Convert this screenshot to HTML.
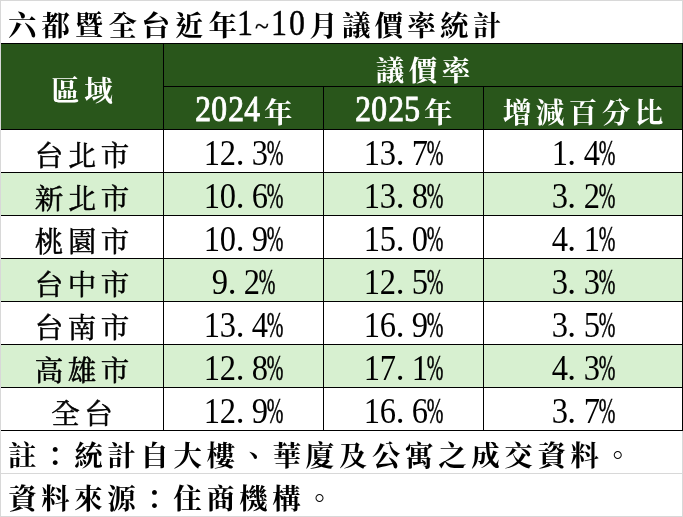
<!DOCTYPE html><html lang="zh-Hant"><head><meta charset="utf-8"><title>六都暨全台近年1~10月議價率統計</title><style>
*{margin:0;padding:0;box-sizing:border-box}
html,body{width:683px;height:517px;background:#fff;overflow:hidden}
body{position:relative;font-family:"Liberation Serif","Noto Serif CJK SC",serif;color:#000}
.ab{position:absolute}
.ln{position:absolute;background:#000}
.gl{position:absolute;background:#d8d8d8}
.c{position:absolute;text-align:center;white-space:nowrap;font-size:28.5px;font-weight:400;-webkit-text-stroke:0.55px #000}
.k{letter-spacing:4.50px;margin-right:-4.50px;display:inline-block;position:relative}
.b{font-weight:700;font-size:28.5px;-webkit-text-stroke:0}
.b .k{letter-spacing:4.50px;margin-right:-4.50px}
.w{color:#fff}
.n{-webkit-text-stroke:0;display:inline-block;position:relative;top:-1.5px;left:.5px;font-size:35.0px;font-weight:400;letter-spacing:0;line-height:1}
.d{display:inline-block;width:16.0px;text-align:center}
.d i{font-style:normal;display:inline-block;width:40px;margin:0 -12.00px;text-align:center;transform:scaleX(0.93);transform-origin:50% 50%;position:relative}
.d.pc i{transform:scaleX(0.57);left:-1px;-webkit-text-stroke:.5px #000}
.d.dot i{transform:none;left:-4px}
.hn{font-size:35.0px;font-weight:400;-webkit-text-stroke:0.9px #fff;top:-1.5px;left:0}
.hn .d{width:16.55px}
.hn .d i{margin:0 -11.72px;transform:scaleX(0.9)}
.yr{margin-left:3.5px}
.tn{font-size:35.5px;top:0;left:0;line-height:43px;-webkit-text-stroke:0.4px #000}
.tn .d{width:17.2px}
.tn .d i{margin:0 -11.4px;transform:scaleX(.9)}
.tn .d.tl i{transform:scale(.72,.75);top:2.4px}
.t{position:absolute;white-space:nowrap;font-weight:700;font-size:28.5px;line-height:43px;height:43px}
.t .k{margin-right:0}
.lat{font-size:35.5px;font-weight:400;-webkit-text-stroke:0.4px #000;letter-spacing:0;top:-2.3px}
</style></head><body>
<div class="ab" style="left:1px;top:44px;width:681px;height:85px;background:#29561b"></div>
<div class="ab" style="left:1px;top:173px;width:681px;height:42px;background:#d7f0d0"></div>
<div class="ab" style="left:1px;top:259px;width:681px;height:42px;background:#d7f0d0"></div>
<div class="ab" style="left:1px;top:345px;width:681px;height:42px;background:#d7f0d0"></div>
<div class="gl" style="left:0;top:0;width:683px;height:1px"></div>
<div class="gl" style="left:0;top:0;width:1px;height:517px"></div>
<div class="gl" style="left:682px;top:0;width:1px;height:517px"></div>
<div class="gl" style="left:0;top:473px;width:683px;height:1px"></div>
<div class="gl" style="left:0;top:516px;width:683px;height:1px"></div>
<div class="ln" style="left:1px;top:43px;width:682px;height:1px"></div>
<div class="ln" style="left:1px;top:129px;width:682px;height:1px"></div>
<div class="ln" style="left:1px;top:172px;width:682px;height:1px"></div>
<div class="ln" style="left:1px;top:215px;width:682px;height:1px"></div>
<div class="ln" style="left:1px;top:258px;width:682px;height:1px"></div>
<div class="ln" style="left:1px;top:301px;width:682px;height:1px"></div>
<div class="ln" style="left:1px;top:344px;width:682px;height:1px"></div>
<div class="ln" style="left:1px;top:387px;width:682px;height:1px"></div>
<div class="ln" style="left:1px;top:430px;width:682px;height:1px"></div>
<div class="ln" style="left:163px;top:86px;width:520px;height:1px"></div>
<div class="ln" style="left:163px;top:43px;width:1px;height:388px"></div>
<div class="ln" style="left:323px;top:86px;width:1px;height:345px"></div>
<div class="ln" style="left:483px;top:86px;width:1px;height:345px"></div>
<div class="ln" style="left:682px;top:43px;width:1px;height:388px"></div>
<div class="t" id="title" style="left:0;top:4.5px;width:683px"><span class="k" style="position:absolute;left:8px;letter-spacing:4.90px">六都暨全台近年</span><span class="lat" style="position:absolute;left:236.4px"><span class="n tn"><span class="d"><i>1</i></span><span class="d tl"><i>~</i></span><span class="d"><i>1</i></span><span class="d"><i>0</i></span></span></span><span class="k" style="position:absolute;left:309.2px;letter-spacing:4.20px">月議價率統計</span></div>
<div class="c b w" style="left:1px;width:162px;top:48.5px;height:86px;line-height:86px"><span class="k">區域</span></div>
<div class="c b w" style="left:164px;width:518px;top:49.5px;height:43px;line-height:43px"><span class="k">議價率</span></div>
<div class="c b w" style="left:164px;width:159px;top:91.5px;height:43px;line-height:43px"><span class="n hn"><span class="d"><i>2</i></span><span class="d"><i>0</i></span><span class="d"><i>2</i></span><span class="d"><i>4</i></span></span><span class="k yr">年</span></div>
<div class="c b w" style="left:324px;width:159px;top:91.5px;height:43px;line-height:43px"><span class="n hn"><span class="d"><i>2</i></span><span class="d"><i>0</i></span><span class="d"><i>2</i></span><span class="d"><i>5</i></span></span><span class="k yr">年</span></div>
<div class="c b w" style="left:484px;width:198px;top:91.5px;height:43px;line-height:43px"><span class="k">增減百分比</span></div>
<div class="c " style="left:1px;width:162px;top:135.0px;height:43px;line-height:43px"><span class="k">台北市</span></div>
<div class="c " style="left:164px;width:159px;top:135.0px;height:43px;line-height:43px"><span class="n"><span class="d"><i>1</i></span><span class="d"><i>2</i></span><span class="d dot"><i>.</i></span><span class="d"><i>3</i></span><span class="d pc"><i>%</i></span></span></div>
<div class="c " style="left:324px;width:159px;top:135.0px;height:43px;line-height:43px"><span class="n"><span class="d"><i>1</i></span><span class="d"><i>3</i></span><span class="d dot"><i>.</i></span><span class="d"><i>7</i></span><span class="d pc"><i>%</i></span></span></div>
<div class="c " style="left:484px;width:198px;top:135.0px;height:43px;line-height:43px"><span class="n"><span class="d"><i>1</i></span><span class="d dot"><i>.</i></span><span class="d"><i>4</i></span><span class="d pc"><i>%</i></span></span></div>
<div class="c " style="left:1px;width:162px;top:178.0px;height:43px;line-height:43px"><span class="k">新北市</span></div>
<div class="c " style="left:164px;width:159px;top:178.0px;height:43px;line-height:43px"><span class="n"><span class="d"><i>1</i></span><span class="d"><i>0</i></span><span class="d dot"><i>.</i></span><span class="d"><i>6</i></span><span class="d pc"><i>%</i></span></span></div>
<div class="c " style="left:324px;width:159px;top:178.0px;height:43px;line-height:43px"><span class="n"><span class="d"><i>1</i></span><span class="d"><i>3</i></span><span class="d dot"><i>.</i></span><span class="d"><i>8</i></span><span class="d pc"><i>%</i></span></span></div>
<div class="c " style="left:484px;width:198px;top:178.0px;height:43px;line-height:43px"><span class="n"><span class="d"><i>3</i></span><span class="d dot"><i>.</i></span><span class="d"><i>2</i></span><span class="d pc"><i>%</i></span></span></div>
<div class="c " style="left:1px;width:162px;top:221.0px;height:43px;line-height:43px"><span class="k">桃園市</span></div>
<div class="c " style="left:164px;width:159px;top:221.0px;height:43px;line-height:43px"><span class="n"><span class="d"><i>1</i></span><span class="d"><i>0</i></span><span class="d dot"><i>.</i></span><span class="d"><i>9</i></span><span class="d pc"><i>%</i></span></span></div>
<div class="c " style="left:324px;width:159px;top:221.0px;height:43px;line-height:43px"><span class="n"><span class="d"><i>1</i></span><span class="d"><i>5</i></span><span class="d dot"><i>.</i></span><span class="d"><i>0</i></span><span class="d pc"><i>%</i></span></span></div>
<div class="c " style="left:484px;width:198px;top:221.0px;height:43px;line-height:43px"><span class="n"><span class="d"><i>4</i></span><span class="d dot"><i>.</i></span><span class="d"><i>1</i></span><span class="d pc"><i>%</i></span></span></div>
<div class="c " style="left:1px;width:162px;top:264.0px;height:43px;line-height:43px"><span class="k">台中市</span></div>
<div class="c " style="left:164px;width:159px;top:264.0px;height:43px;line-height:43px"><span class="n"><span class="d"><i>9</i></span><span class="d dot"><i>.</i></span><span class="d"><i>2</i></span><span class="d pc"><i>%</i></span></span></div>
<div class="c " style="left:324px;width:159px;top:264.0px;height:43px;line-height:43px"><span class="n"><span class="d"><i>1</i></span><span class="d"><i>2</i></span><span class="d dot"><i>.</i></span><span class="d"><i>5</i></span><span class="d pc"><i>%</i></span></span></div>
<div class="c " style="left:484px;width:198px;top:264.0px;height:43px;line-height:43px"><span class="n"><span class="d"><i>3</i></span><span class="d dot"><i>.</i></span><span class="d"><i>3</i></span><span class="d pc"><i>%</i></span></span></div>
<div class="c " style="left:1px;width:162px;top:307.0px;height:43px;line-height:43px"><span class="k">台南市</span></div>
<div class="c " style="left:164px;width:159px;top:307.0px;height:43px;line-height:43px"><span class="n"><span class="d"><i>1</i></span><span class="d"><i>3</i></span><span class="d dot"><i>.</i></span><span class="d"><i>4</i></span><span class="d pc"><i>%</i></span></span></div>
<div class="c " style="left:324px;width:159px;top:307.0px;height:43px;line-height:43px"><span class="n"><span class="d"><i>1</i></span><span class="d"><i>6</i></span><span class="d dot"><i>.</i></span><span class="d"><i>9</i></span><span class="d pc"><i>%</i></span></span></div>
<div class="c " style="left:484px;width:198px;top:307.0px;height:43px;line-height:43px"><span class="n"><span class="d"><i>3</i></span><span class="d dot"><i>.</i></span><span class="d"><i>5</i></span><span class="d pc"><i>%</i></span></span></div>
<div class="c " style="left:1px;width:162px;top:350.0px;height:43px;line-height:43px"><span class="k">高雄市</span></div>
<div class="c " style="left:164px;width:159px;top:350.0px;height:43px;line-height:43px"><span class="n"><span class="d"><i>1</i></span><span class="d"><i>2</i></span><span class="d dot"><i>.</i></span><span class="d"><i>8</i></span><span class="d pc"><i>%</i></span></span></div>
<div class="c " style="left:324px;width:159px;top:350.0px;height:43px;line-height:43px"><span class="n"><span class="d"><i>1</i></span><span class="d"><i>7</i></span><span class="d dot"><i>.</i></span><span class="d"><i>1</i></span><span class="d pc"><i>%</i></span></span></div>
<div class="c " style="left:484px;width:198px;top:350.0px;height:43px;line-height:43px"><span class="n"><span class="d"><i>4</i></span><span class="d dot"><i>.</i></span><span class="d"><i>3</i></span><span class="d pc"><i>%</i></span></span></div>
<div class="c " style="left:1px;width:162px;top:393.0px;height:43px;line-height:43px"><span class="k">全台</span></div>
<div class="c " style="left:164px;width:159px;top:393.0px;height:43px;line-height:43px"><span class="n"><span class="d"><i>1</i></span><span class="d"><i>2</i></span><span class="d dot"><i>.</i></span><span class="d"><i>9</i></span><span class="d pc"><i>%</i></span></span></div>
<div class="c " style="left:324px;width:159px;top:393.0px;height:43px;line-height:43px"><span class="n"><span class="d"><i>1</i></span><span class="d"><i>6</i></span><span class="d dot"><i>.</i></span><span class="d"><i>6</i></span><span class="d pc"><i>%</i></span></span></div>
<div class="c " style="left:484px;width:198px;top:393.0px;height:43px;line-height:43px"><span class="n"><span class="d"><i>3</i></span><span class="d dot"><i>.</i></span><span class="d"><i>7</i></span><span class="d pc"><i>%</i></span></span></div>
<div class="t" id="note" style="left:8px;top:435.0px"><span class="k" style="letter-spacing:4.59px">註：統計自大樓、華廈及公寓之成交資料。</span></div>
<div class="t" id="src" style="left:8.3px;top:477.5px"><span class="k">資料來源：住商機構。</span></div>
</body></html>
